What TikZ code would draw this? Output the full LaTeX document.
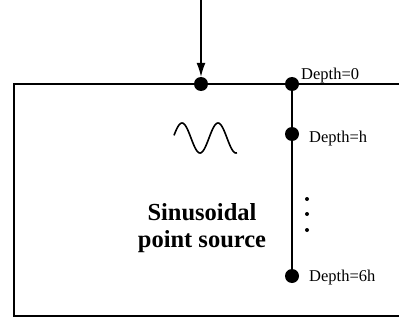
\documentclass[tikz,border=0pt]{standalone}
\usepackage{fontspec}
\setmainfont{Liberation Serif}
\usetikzlibrary{arrows.meta}
\begin{document}
\begin{tikzpicture}[x=1pt,y=-1pt,
  bigdot/.style={circle,fill=black,draw=none,minimum size=14pt,inner sep=0pt},
  smalldot/.style={circle,fill=black,draw=none,minimum size=4pt,inner sep=0pt},
  lbl/.style={font=\fontsize{16.5}{18}\selectfont,inner sep=0pt,anchor=base west},
  ln/.style={line width=1.2pt}]
\useasboundingbox (0,0) rectangle (399,329);
% box
\coordinate (tl) at (14,84);
\coordinate (tr) at (399,84);
\coordinate (bl) at (14,316);
\coordinate (br) at (399,316);
\draw[ln] (tr) -- (tl) -- (bl) -- (br);
% dots
\node[bigdot] (src) at (201,84) {};
\node[bigdot] (d0) at (292,84) {};
\node[bigdot] (dh) at (292,134) {};
\node[bigdot] (d6) at (292,276) {};
\draw[ln] (d0) -- (d6);
% arrow
\coordinate (atop) at (201,0);
\draw[ln,-{Latex[length=14pt,width=9pt]}] (atop) -- (src.north);
% small dots
\node[smalldot] (e1) at (307,199) {};
\node[smalldot] (e2) at (307,214) {};
\node[smalldot] (e3) at (307,230) {};
% labels
\node[lbl] (t0) at (301,79) {Depth=0};
\node[lbl] (th) at (309,142) {Depth=h};
\node[lbl] (t6) at (309,281) {Depth=6h};
% sine
\draw[line width=1.6pt,domain=174:237,samples=80,smooth]
  plot (\x,{138-15*sin(10*(\x-173))});
% source text
\node[font=\fontsize{24.5}{27}\selectfont\bfseries,align=center,anchor=base,inner sep=0pt] (txt) at (202,247) {Sinusoidal\\point source};
\end{tikzpicture}
\end{document}
